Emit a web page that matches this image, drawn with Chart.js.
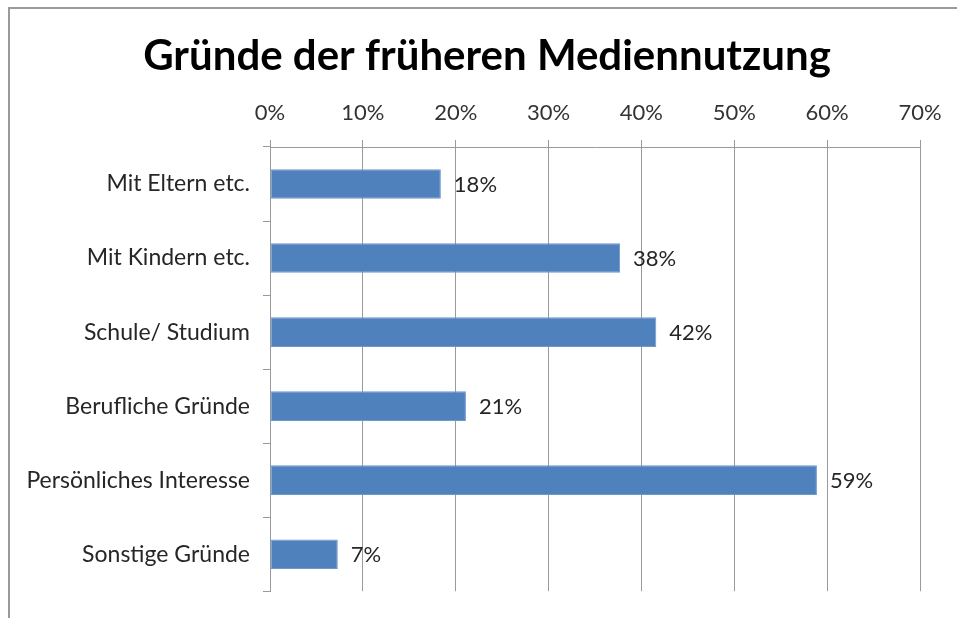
<!DOCTYPE html>
<html>
<head>
<meta charset="utf-8">
<script src="https://cdn.jsdelivr.net/npm/chart.js@4"></script>
<style>
  html, body { margin: 0; padding: 0; background: #fff; }
  #wrap { position: relative; width: 957px; height: 618px; overflow: hidden; }
  #frame { position: absolute; left: 8px; top: 7px; right: -10px; bottom: -10px;
           border-left: 2px solid #9a9a9a; border-top: 2px solid #9a9a9a; }
  canvas { position: absolute; left: 0; top: 0; }
</style>
</head>
<body>
<div id="wrap">
  <div id="frame"></div>
  <canvas id="c" width="957" height="618"></canvas>
</div>
<script>
const categories = ["Mit Eltern etc.", "Mit Kindern etc.", "Schule/ Studium", "Berufliche Gründe", "Persönliches Interesse", "Sonstige Gründe"];
const values = [18.4, 37.7, 41.6, 21.1, 58.9, 7.3];
const valueLabels = ["18%", "38%", "42%", "21%", "59%", "7%"];
const axisMin = 0, axisMax = 70, axisStep = 10;
const chartTitle = "Gründe der früheren Mediennutzung";

const FONT = "Lato, 'Open Sans', sans-serif";

const labelPlugin = {
  id: 'valueLabels',
  afterDatasetsDraw(chart) {
    const ctx = chart.ctx;
    const meta = chart.getDatasetMeta(0);
    ctx.save();
    ctx.font = "22px " + FONT;
    ctx.fillStyle = "#262626";
    ctx.textAlign = "left";
    ctx.textBaseline = "middle";
    meta.data.forEach((bar, i) => {
      ctx.fillText(valueLabels[i], bar.x + 13, bar.y + 1);
    });
    ctx.restore();
  }
};

new Chart(document.getElementById('c'), {
  type: 'bar',
  data: {
    labels: categories,
    datasets: [{
      data: values,
      backgroundColor: '#4F81BD',
      borderColor: '#6f98cc',
      borderWidth: 1,
      borderSkipped: false,
      categoryPercentage: 0.8,
      barPercentage: 0.5
    }]
  },
  options: {
    indexAxis: 'y',
    responsive: false,
    animation: false,
    devicePixelRatio: 1,
    layout: { padding: { left: 17, right: 0, top: 0, bottom: 21 } },
    plugins: {
      legend: { display: false },
      tooltip: { enabled: false },
      title: {
        display: true,
        text: chartTitle,
        color: '#000',
        font: { family: FONT, size: 42, weight: 'bold', lineHeight: 1.2 },
        padding: { top: 31, bottom: 4 }
      }
    },
    scales: {
      x: {
        position: 'top',
        min: axisMin,
        max: axisMax,
        afterFit(scale) { scale.height = 61.6; },
        ticks: {
          stepSize: axisStep,
          padding: 14,
          color: '#333',
          font: { family: FONT, size: 22 },
          callback: v => v + '%'
        },
        grid: { color: '#9a9a9a', lineWidth: 1, tickLength: 7, drawTicks: true },
        border: { display: true, color: '#9a9a9a', width: 1 }
      },
      y: {
        afterFit(scale) { scale.width = 253; },
        ticks: {
          padding: 13,
          color: '#262626',
          font: { family: FONT, size: 23 }
        },
        grid: { offset: true, drawOnChartArea: false, drawTicks: true, tickLength: 7, color: '#9a9a9a' },
        border: { display: true, color: '#9a9a9a', width: 1 }
      },
      yRight: {
        type: 'category',
        axis: 'y',
        position: 'right',
        afterFit(scale) { scale.width = 37; },
        ticks: { display: false },
        grid: { display: false, drawTicks: false },
        border: { display: false }
      }
    }
  },
  plugins: [labelPlugin]
});
</script>
</body>
</html>
